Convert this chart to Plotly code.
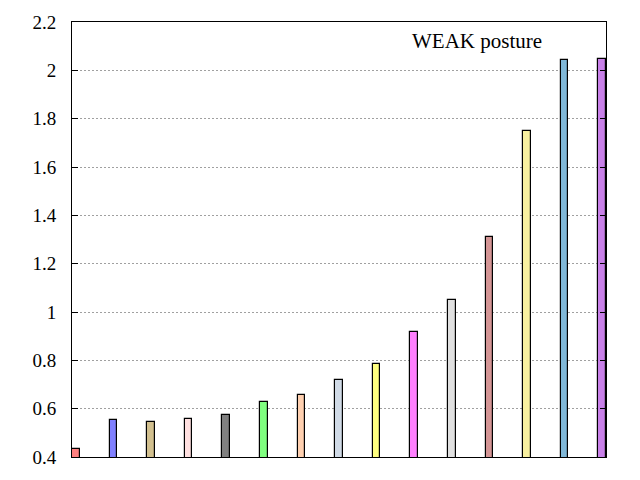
"""Sorted bar chart, WEAK posture, gnuplot look."""

import plotly.graph_objects as go

# bar values, left to right
values = [0.432, 0.552, 0.545, 0.556, 0.573, 0.626, 0.656, 0.717, 0.784,
          0.916, 1.05, 1.31, 1.75, 2.041, 2.046]
bar_colors = ["#ff8080", "#8080ff", "#d2c08f", "#ffe0e0", "#808080",
              "#80ff80", "#ffd0b0", "#d0dae6", "#ffff80", "#ff80ff",
              "#e0e0e0", "#d49595", "#f8f0a0", "#80b8d8", "#c880e8"]
y_ticks = [0.4, 0.6, 0.8, 1.0, 1.2, 1.4, 1.6, 1.8, 2.0, 2.2]
y_labels = ["0.4", "0.6", "0.8", "1", "1.2", "1.4", "1.6", "1.8", "2", "2.2"]
label = "WEAK posture"

positions = list(range(len(values)))
bar_w = 0.2

fig = go.Figure(
    go.Bar(
        x=positions,
        y=values,
        width=bar_w,
        marker=dict(color=bar_colors, line=dict(color="black", width=1.2)),
        showlegend=False,
    )
)

fig.add_annotation(
    text=label,
    xref="paper", yref="paper",
    x=0.884, y=0.956,
    xanchor="right", yanchor="middle",
    showarrow=False,
    font=dict(family="Liberation Serif", size=21, color="black"),
)

# page body has an 8px margin, so pull the figure up/left by that much
fig.update_layout(
    width=640, height=480,
    margin=dict(l=64, r=42, t=14, b=31),
    paper_bgcolor="white",
    plot_bgcolor="white",
    font=dict(family="Liberation Serif", size=19, color="black"),
    xaxis=dict(
        range=[-bar_w / 2, positions[-1] + bar_w / 2],
        showticklabels=False, ticks="", showgrid=False, zeroline=False,
        showline=True, linecolor="black", linewidth=1, mirror=True,
        automargin=False,
    ),
    yaxis=dict(
        range=[0.4, 2.2],
        tickvals=y_ticks, ticktext=y_labels,
        ticks="inside", ticklen=6, tickcolor="black",
        ticklabelstandoff=11,
        showgrid=True, gridcolor="#a0a0a0", griddash="2px,2px", gridwidth=1,
        zeroline=False,
        showline=True, linecolor="black", linewidth=1, mirror="ticks",
        automargin=False,
    ),
    bargap=0,
)

fig.write_html("out.html")
